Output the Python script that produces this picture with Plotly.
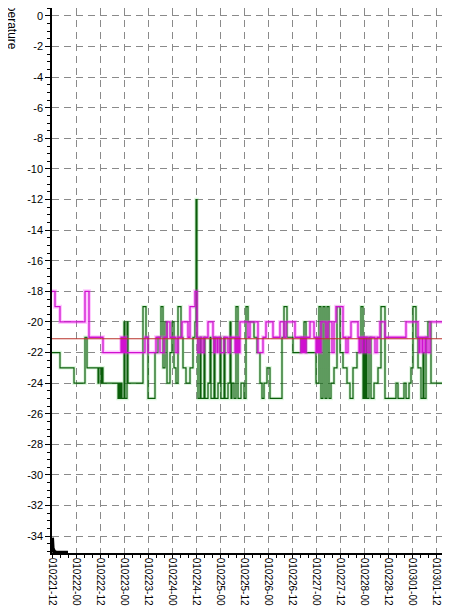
import pandas as pd
import plotly.graph_objects as go

# ---------------- data ----------------
start_time = "2001-02-21 12:00"

# green series: (hours after start, temperature) change points
green_hours = [0, 4, 11, 16.5, 17.5, 23, 23.5, 24.5, 25, 25.5, 33, 33.5, 34, 34.5, 35, 36, 36.5, 37.5, 38,
               45.5, 47, 48, 51.5, 53, 54.5, 55.5, 56.5, 57.5, 59, 60, 61, 62, 63, 64.5, 65.5, 67, 69, 70.5,
               71.5, 72, 72.5, 73, 74, 74.5, 76, 76.5, 78, 79, 79.5, 81, 81.5, 83, 84, 84.5, 86, 86.5, 88,
               89, 89.5, 90, 91, 92, 93, 94.5, 96, 97, 98, 101, 102.5, 104, 105, 106, 107.5, 109, 115, 116,
               117.5, 120.5, 124.5, 126, 127, 132, 133.5, 134.5, 135.5, 136.5, 137.5, 138.5, 139.5, 141,
               142.5, 144, 145.5, 147.5, 149, 150.5, 152.5, 154.5, 155.5, 156, 156.5, 157, 157.5, 158.5,
               159.5, 161, 163, 164.5, 166.5, 172, 173, 176, 177, 178.5, 179.5, 180.5, 182, 183, 184.5,
               185.5, 186, 187, 188, 189.5, 200]
green_vals = [-22, -23, -24, -21, -23, -24, -23, -24, -23, -24, -25, -24, -25, -24, -25, -20, -25, -20, -24,
              -19, -21, -25, -22, -21, -19, -23, -20, -24, -22, -20, -23, -24, -19, -21, -23, -24, -23, -21,
              -20, -12, -21, -25, -21, -25, -21, -25, -24, -21, -25, -21, -25, -24, -21, -25, -21, -25, -24,
              -20, -25, -24, -25, -19, -25, -24, -25, -19, -20, -21, -22, -24, -25, -24, -23, -25, -21, -19,
              -21, -22, -21, -20, -22, -24, -19, -25, -19, -25, -19, -25, -24, -23,
              -19, -22, -23, -24, -25, -23, -22, -19, -25, -21, -25, -21, -25, -21,
              -25, -24, -23, -19, -25, -24, -25, -24, -25, -24, -23, -19, -21, -23, -25,
              -22, -25, -21, -20, -24, -24]

# magenta series
magenta_hours = [0, 1.5, 4, 16.5, 18.5, 25.5, 34.5, 35, 35.5, 36, 36.5, 37, 46.5, 48, 52, 54, 56, 57.5, 59,
                 62, 63, 65, 68, 69, 71.5, 72.5, 73, 74, 75, 76, 78, 80.5, 81, 81.5, 82.5, 83, 84, 86, 88,
                 89, 91.5, 92, 92.5, 93, 93.5, 94, 98, 99, 103, 105.5, 107, 110.5, 114, 116, 117, 121.5,
                 124.5, 125, 125.5, 126, 126.5, 127, 129, 131, 132, 132.5, 133, 133.5, 134, 134.5, 137, 138,
                 140, 141, 142, 145.5, 147, 148, 149.5, 153, 153.5, 154, 155, 155.5, 156.5, 157, 158, 159,
                 161.5, 162.5, 164, 166.5, 177, 183, 183.5, 184, 185, 185.5, 186.5, 187, 188, 189, 200]
magenta_vals = [-18, -19, -20, -18, -21, -22, -21, -22, -21, -22, -21, -22, -21, -22, -21, -22, -21, -20, -21,
                -22, -21, -20, -21, -19, -18, -21, -22, -21, -22, -21, -20, -21, -22, -21, -22, -21, -22, -21, -22,
                -21, -22, -21, -22, -21, -22, -20, -21, -20, -22, -21, -20, -21, -20, -21, -20, -21,
                -22, -21, -22, -21, -22, -21, -20, -21, -22, -21, -22, -21, -22, -20, -21, -20,
                -22, -20, -19, -21, -22, -21, -20, -21, -22, -21, -22, -21, -22, -21, -22, -21,
                -22, -21, -20, -21, -20, -21, -22, -21, -22, -21, -22, -21, -22, -20, -20]

# red constant reference line
red_hours = [0, 200]
red_vals = [-21.1, -21.1]

# black series at the bottom-left
black_hours = [0, 0.3, 1, 2, 8]
black_vals = [-34.1, -34.8, -35.0, -35.08, -35.08]

y_tick_vals = list(range(0, -35, -2))
y_tick_text = [str(v) for v in y_tick_vals]

y_title = "Temperature"


def to_time(hours):
    return pd.Timestamp(start_time) + pd.to_timedelta(hours, unit="h")


fig = go.Figure()

# green (glow + line)
fig.add_trace(go.Scatter(x=to_time(green_hours), y=green_vals, mode="lines", line_shape="hv",
                         line=dict(color="rgba(60,200,60,0.18)", width=3.5), hoverinfo="skip",
                         showlegend=False))
fig.add_trace(go.Scatter(x=to_time(green_hours), y=green_vals, mode="lines", line_shape="hv",
                         line=dict(color="#0a5e0a", width=1.2), showlegend=False))
# magenta
fig.add_trace(go.Scatter(x=to_time(magenta_hours), y=magenta_vals, mode="lines", line_shape="hv",
                         line=dict(color="rgba(255,60,255,0.28)", width=4), hoverinfo="skip",
                         showlegend=False))
fig.add_trace(go.Scatter(x=to_time(magenta_hours), y=magenta_vals, mode="lines", line_shape="hv",
                         line=dict(color="#d010d0", width=1.3), showlegend=False))
# red
fig.add_trace(go.Scatter(x=to_time(red_hours), y=red_vals, mode="lines",
                         line=dict(color="#b8322a", width=1.1), showlegend=False))
# black
fig.add_trace(go.Scatter(x=to_time(black_hours), y=black_vals, mode="lines",
                         line=dict(color="black", width=4), showlegend=False))

grid_dash = "7px,5px"

# the page body adds an 8px offset, so the figure is 8px smaller than the window
fig.update_layout(
    width=442, height=600,
    margin=dict(l=44, r=0, t=0, b=55),
    paper_bgcolor="white", plot_bgcolor="white",
    font=dict(family="Liberation Sans, Arial, sans-serif", size=11, color="black"),
    xaxis=dict(
        type="date", automargin=False,
        range=[to_time(0), to_time(199)],
        tick0=to_time(0), dtick=12 * 3600 * 1000,
        tickformat="%y%m%d-%H", tickangle=90,
        ticks="outside", ticklen=3, tickcolor="black",
        ticklabelstandoff=-2,
        showline=True, linecolor="black", linewidth=1.5,
        showgrid=True, gridcolor="#8a8a8a", gridwidth=1, griddash=grid_dash,
        minor=dict(dtick=4 * 3600 * 1000, ticks="outside", ticklen=3, tickcolor="black", showgrid=False),
        zeroline=False,
        tickfont=dict(size=10),
    ),
    yaxis=dict(
        automargin=False,
        range=[-35.1, 0.52],
        tickvals=y_tick_vals, ticktext=y_tick_text,
        ticks="outside", ticklen=5, tickcolor="black",
        showline=True, linecolor="black", linewidth=1.5,
        showgrid=True, gridcolor="#8a8a8a", gridwidth=1, griddash=grid_dash,
        minor=dict(dtick=0.5, ticks="outside", ticklen=3, tickcolor="black", showgrid=False),
        zeroline=False,
        tickfont=dict(size=11),
    ),
    annotations=[dict(text=y_title, textangle=90, xref="paper", yref="paper",
                      x=-0.1005, y=0.985, xanchor="center", yanchor="middle",
                      showarrow=False, font=dict(size=12, color="black"))],
)

fig.write_html("out.html")
